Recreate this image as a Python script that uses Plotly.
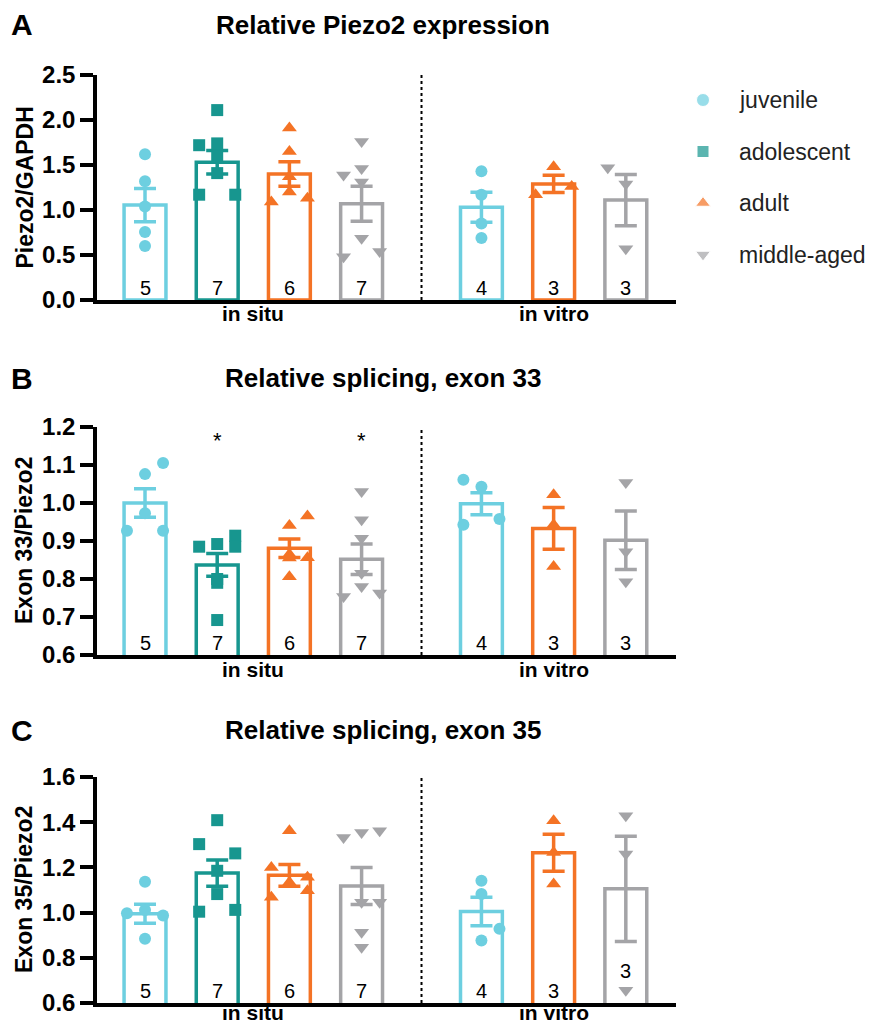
import plotly.graph_objects as go

# ---------------- data ----------------
groups = ["juvenile", "adolescent", "adult", "middle-aged"]
group_colors = ["#6dcfe0", "#17968f", "#f47325", "#a4a4a7"]
group_symbols = ["circle", "square", "triangle-up", "triangle-down"]

conditions = ["in situ", "in vitro"]
bar_groups = ["juvenile", "adolescent", "adult", "middle-aged", "juvenile", "adult", "middle-aged"]
bar_conditions = ["in situ"] * 4 + ["in vitro"] * 3

# Panel A: Piezo2/GAPDH
A_means = [1.055, 1.53, 1.40, 1.07, 1.03, 1.29, 1.11]
A_sems = [0.185, 0.13, 0.137, 0.195, 0.167, 0.095, 0.285]
A_points = [
    [1.62, 1.32, 1.04, 0.755, 0.60],
    [2.11, 1.72, 1.74, 1.59, 1.41, 1.17, 1.17],
    [1.91, 1.65, 1.37, 1.20, 1.09, 1.13],
    [1.76, 1.39, 1.46, 1.31, 0.685, 0.48, 0.54],
    [1.43, 1.17, 0.85, 0.69],
    [1.48, 1.17, 1.26],
    [1.47, 1.29, 0.57],
]
A_cols = [
    [0, 0, 0, 0, 0],
    [0, -1, 0, 0, 0, -1, 1],
    [0, 0, 0, 0, -1, 1],
    [0, -1, 0, 0, 0, -1, 1],
    [0, 0, 0, 0],
    [0, -1, 1],
    [-1, 0, 0],
]

# Panel B: Exon 33/Piezo2
B_means = [1.0, 0.837, 0.881, 0.852, 0.998, 0.933, 0.902]
B_sems = [0.0375, 0.03, 0.0245, 0.04, 0.029, 0.055, 0.077]
B_points = [
    [1.105, 1.076, 0.973, 0.927, 0.927],
    [0.885, 0.892, 0.914, 0.885, 0.80, 0.79, 0.692],
    [0.966, 0.941, 0.865, 0.855, 0.856, 0.806],
    [1.03, 0.956, 0.907, 0.815, 0.78, 0.754, 0.763],
    [1.061, 1.043, 0.958, 0.943],
    [1.022, 0.943, 0.833],
    [1.054, 0.872, 0.793],
]
B_cols = [
    [1, 0, 0, -1, 1],
    [-1, 0, 1, 1, 0, 0, 0],
    [1, 0, 0, 0, 1, 0],
    [0, 0, 0, 0, 0, -1, 1],
    [-1, 0, 1, -1],
    [0, 0, 0],
    [0, 0, 0],
]
B_stars = ["", "*", "", "*", "", "", ""]

# Panel C: Exon 35/Piezo2
C_means = [0.995, 1.175, 1.165, 1.118, 1.005, 1.265, 1.105]
C_sems = [0.042, 0.058, 0.048, 0.082, 0.063, 0.082, 0.233]
C_points = [
    [1.137, 0.997, 0.987, 1.012, 0.884],
    [1.409, 1.303, 1.262, 1.185, 1.082, 1.004, 1.012],
    [1.362, 1.2, 1.156, 1.134, 1.097, 1.068],
    [1.332, 1.354, 1.362, 1.046, 1.046, 0.913, 0.847],
    [1.141, 1.082, 0.928, 0.877],
    [1.406, 1.266, 1.126],
    [1.428, 1.259, 0.656],
]
C_cols = [
    [0, -1, 1, 0, 0],
    [0, -1, 1, 0, 0, -1, 1],
    [0, -1, 1, 0, 1, -1],
    [-1, 0, 1, 0, 1, 0, 0],
    [0, 0, 1, 0],
    [0, 0, 0],
    [0, 0, 0],
]

panel_letters = ["A", "B", "C"]
panel_titles = ["Relative Piezo2 expression", "Relative splicing, exon 33", "Relative splicing, exon 35"]
y_titles = ["Piezo2/GAPDH", "Exon 33/Piezo2", "Exon 35/Piezo2"]
y_ranges = [[0, 2.5], [0.6, 1.2], [0.6, 1.6]]
y_dticks = [0.5, 0.1, 0.2]

# ---------------- layout constants ----------------
PAGE_MARGIN = 8                      # default <body> margin of the html page
W, H = 876 - 2 * PAGE_MARGIN, 1032 - 2 * PAGE_MARGIN
FONT = "Liberation Sans, Arial, sans-serif"


def xp(px):
    return (px - PAGE_MARGIN) / W


def yp(py):
    return 1 - (py - PAGE_MARGIN) / H


GAP = 0.66           # extra gap between in situ and in vitro blocks
bar_x = []
for i, c in enumerate(bar_conditions):
    bar_x.append(i + (GAP if c == "in vitro" else 0))
divider_x = 3 + (1 + GAP) / 2
col_step = 0.25
x_range = [-0.665, 7.355]
cond_centers = []
for c in conditions:
    xs_c = [bx for bx, bc in zip(bar_x, bar_conditions) if bc == c]
    cond_centers.append(sum(xs_c) / len(xs_c))

x_dom = [xp(97), xp(676)]
y_pix = [(75, 300), (427, 655), (777, 1003)]   # top, bottom in page pixels
title_y = [25, 378, 730]
cond_label_shift = [-14, -14, -9]

panels = [
    dict(means=A_means, sems=A_sems, points=A_points, cols=A_cols, stars=None),
    dict(means=B_means, sems=B_sems, points=B_points, cols=B_cols, stars=B_stars),
    dict(means=C_means, sems=C_sems, points=C_points, cols=C_cols, stars=None),
]

fig = go.Figure()
annotations = []
shapes = []
layout_axes = {}

for pi, p in enumerate(panels):
    sfx = "" if pi == 0 else str(pi + 1)
    xa, ya = "x" + sfx, "y" + sfx
    for bi, g in enumerate(bar_groups):
        gi = groups.index(g)
        col = group_colors[gi]
        fig.add_trace(go.Bar(
            x=[bar_x[bi]], y=[p["means"][bi]], width=0.58,
            marker=dict(color="white", line=dict(color=col, width=3.5)),
            error_y=dict(type="data", array=[p["sems"][bi]], color=col,
                         thickness=3.5, width=11),
            xaxis=xa, yaxis=ya, showlegend=False, hoverinfo="skip"))
        pts = p["points"][bi]
        xs = [bar_x[bi] + col_step * c for c in p["cols"][bi]]
        sym = group_symbols[gi]
        fig.add_trace(go.Scatter(
            x=xs, y=pts, mode="markers",
            marker=dict(symbol=sym, color=col,
                        size=12 if sym in ("circle", "square") else 13,
                        line=dict(width=0)),
            xaxis=xa, yaxis=ya, showlegend=False, cliponaxis=False))
        # n labels
        yshift = 0
        if pi == 2 and bi == 6:
            yshift = 20
        annotations.append(dict(
            x=bar_x[bi], y=0, xref=xa, yref=ya + " domain",
            text=str(len(pts)), showarrow=False, yanchor="bottom",
            yshift=yshift - 1, font=dict(family=FONT, size=20, color="black")))
        if p["stars"] and p["stars"][bi]:
            annotations.append(dict(
                x=bar_x[bi], y=1.165, xref=xa, yref=ya, text=p["stars"][bi],
                showarrow=False, font=dict(family=FONT, size=22, color="black")))
    # condition labels under the axis
    for c, cx in zip(conditions, cond_centers):
        annotations.append(dict(
            x=cx, y=0, xref=xa, yref=ya + " domain", text=c, showarrow=False,
            xanchor="center", yanchor="middle", yshift=cond_label_shift[pi],
            borderpad=0,
            font=dict(family=FONT, size=21, color="black", weight="bold")))
    top, bot = y_pix[pi]
    ydom = [yp(bot), yp(top)]
    layout_axes["xaxis" + sfx] = dict(
        domain=x_dom, range=x_range, anchor=ya, showgrid=False, zeroline=False,
        automargin=False, showticklabels=False,
        showline=True, linecolor="black", linewidth=3.5, ticks="")
    layout_axes["yaxis" + sfx] = dict(
        domain=ydom, range=y_ranges[pi], anchor=xa, dtick=y_dticks[pi],
        tickformat=".1f", showgrid=False, zeroline=False, automargin=False,
        showline=True, linecolor="black", linewidth=3.5,
        ticks="outside", ticklen=13, tickwidth=3.5, tickcolor="black",
        tickfont=dict(family=FONT, size=24, color="black", weight="bold"))
    shapes.append(dict(type="line", xref=xa, yref=ya + " domain",
                       x0=divider_x, x1=divider_x, y0=0, y1=1,
                       line=dict(color="black", width=2, dash="dot")))
    annotations.append(dict(
        x=xp(24), y=(ydom[0] + ydom[1]) / 2, xref="paper", yref="paper",
        text=y_titles[pi], textangle=-90, showarrow=False,
        xanchor="center", yanchor="middle",
        font=dict(family=FONT, size=23, color="black", weight="bold")))
    annotations.append(dict(
        x=xp(383), y=yp(title_y[pi]), xref="paper", yref="paper",
        text=panel_titles[pi], showarrow=False,
        xanchor="center", yanchor="middle",
        font=dict(family=FONT, size=26, color="black", weight="bold")))
    annotations.append(dict(
        x=xp(22), y=yp(title_y[pi]), xref="paper", yref="paper",
        text=panel_letters[pi], showarrow=False,
        xanchor="center", yanchor="middle",
        font=dict(family=FONT, size=30, color="black", weight="bold")))

# ---------------- legend (own small axis) ----------------
leg_top, leg_bot = 75, 280
item_y0, item_step = 100, 51.5
fig.add_trace(go.Scatter(
    x=[0] * len(groups), y=list(range(len(groups))), mode="markers",
    marker=dict(symbol=group_symbols, color=group_colors, size=[13, 12, 13, 13]),
    xaxis="x4", yaxis="y4", showlegend=False, hoverinfo="skip"))
for gi, g in enumerate(groups):
    annotations.append(dict(
        x=35, y=gi, xref="x4", yref="y4", text=g, showarrow=False,
        xanchor="left", yanchor="middle", borderpad=0,
        font=dict(family=FONT, size=23, color="#222222")))
layout_axes["xaxis4"] = dict(domain=[xp(690), 1.0], range=[-13, 876 - 8 - 703],
                             visible=False, anchor="y4", fixedrange=True, automargin=False)
layout_axes["yaxis4"] = dict(domain=[yp(leg_bot), yp(leg_top)],
                             range=[(leg_bot - item_y0) / item_step, (leg_top - item_y0) / item_step],
                             visible=False, anchor="x4", fixedrange=True, automargin=False)

fig.update_layout(
    width=W, height=H, margin=dict(l=0, r=0, t=0, b=0, autoexpand=False),
    paper_bgcolor="white", plot_bgcolor="white",
    barmode="overlay", showlegend=False,
    annotations=annotations, shapes=shapes,
    font=dict(family=FONT, color="black"),
    **layout_axes)

fig.write_html("out.html")
